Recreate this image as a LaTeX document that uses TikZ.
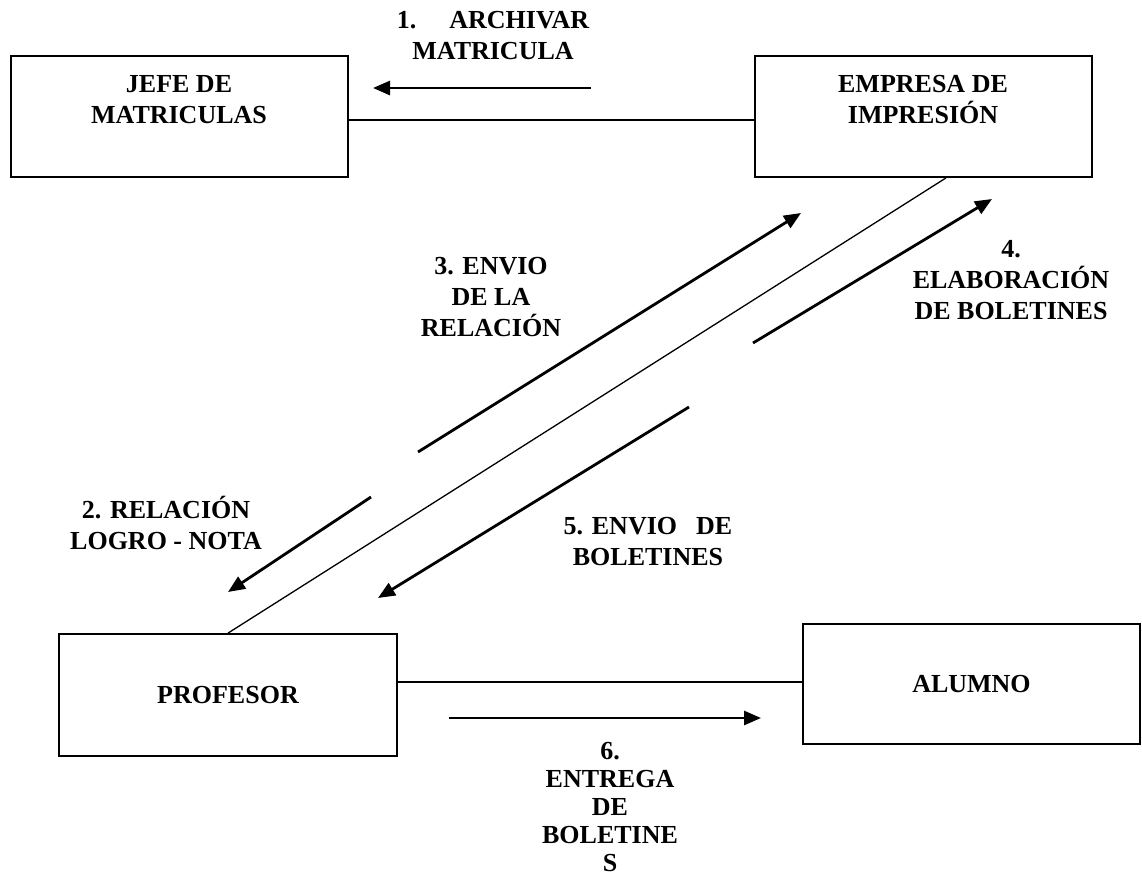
\documentclass[tikz,border=0pt]{standalone}
\usepackage{fontspec}
\setmainfont{Liberation Serif}
\usetikzlibrary{arrows.meta}
\begin{document}
\begin{tikzpicture}[x=1pt,y=-1pt,
  box/.style={draw,line width=1.8pt,minimum width=337pt,minimum height=121pt,inner sep=0pt},
  txt/.style={font=\bfseries\fontsize{26}{31}\selectfont,align=center,inner sep=0pt},
  link/.style={line width=1.6pt},
  flow/.style={line width=2.8pt,-{Triangle[length=17pt,width=14pt]}}]
\useasboundingbox (0,0) rectangle (1142,884);
\fill[white] (0,0) rectangle (1142,884);

% entities
\node[box] (jefe) at (179.5,116.5) {};
\node[txt] (jefeT) at (179,100) {JEFE DE\\MATRICULAS};
\node[box] (empresa) at (923.5,116.5) {};
\node[txt] (empresaT) at (923,100) {EMPRESA DE\\IMPRESIÓN};
\node[box,minimum width=338pt,minimum height=122pt] (profesor) at (228,695) {};
\node[box,minimum height=120pt] (alumno) at (971.5,684) {};
\path (profesor) node[txt] (profesorT) {PROFESOR};
\path (alumno) node[txt] (alumnoT) {ALUMNO};

% links between entities
\draw[link] ([yshift=-3.5pt]jefe.east) -- ([yshift=-3.5pt]empresa.west);
\draw[link] ([yshift=2pt]alumno.west -| profesor.east) -- ([yshift=2pt]alumno.west);
\draw[link,line width=1.3pt] (profesor.north) -- ([xshift=22.5pt]empresa.south);

% message flows
\coordinate (a1s) at (591,88);  \coordinate (a1e) at (373,88);
\coordinate (a2s) at (371,497); \coordinate (a2e) at (228,592);
\coordinate (a3s) at (418,452); \coordinate (a3e) at (801,213);
\coordinate (a4s) at (753,343); \coordinate (a4e) at (992,199);
\coordinate (a5s) at (689,407); \coordinate (a5e) at (378,598);
\coordinate (a6s) at (449,718); \coordinate (a6e) at (761,718);
\foreach \i in {1,...,6} \draw[flow] (a\i s) -- (a\i e);

% flow labels
\node[txt] (l1) at (493,36) {1.\hspace{33pt}ARCHIVAR\\MATRICULA};
\node[txt] (l2) at (166,523) {2. RELACIÓN\\LOGRO - NOTA};
\node[txt] (l3) at (491,297) {3. ENVIO\\DE LA\\RELACIÓN};
\node[txt] (l4) at (1011,280) {4.\\ELABORACIÓN\\DE BOLETINES};
\node[txt] (l5) at (648,542) {5. ENVIO\hspace{19pt}DE\\BOLETINES};
\node[txt,font=\bfseries\fontsize{26}{28}\selectfont] (l6) at (610,807) {6.\\ENTREGA\\DE\\BOLETINE\\S};
\end{tikzpicture}
\end{document}
